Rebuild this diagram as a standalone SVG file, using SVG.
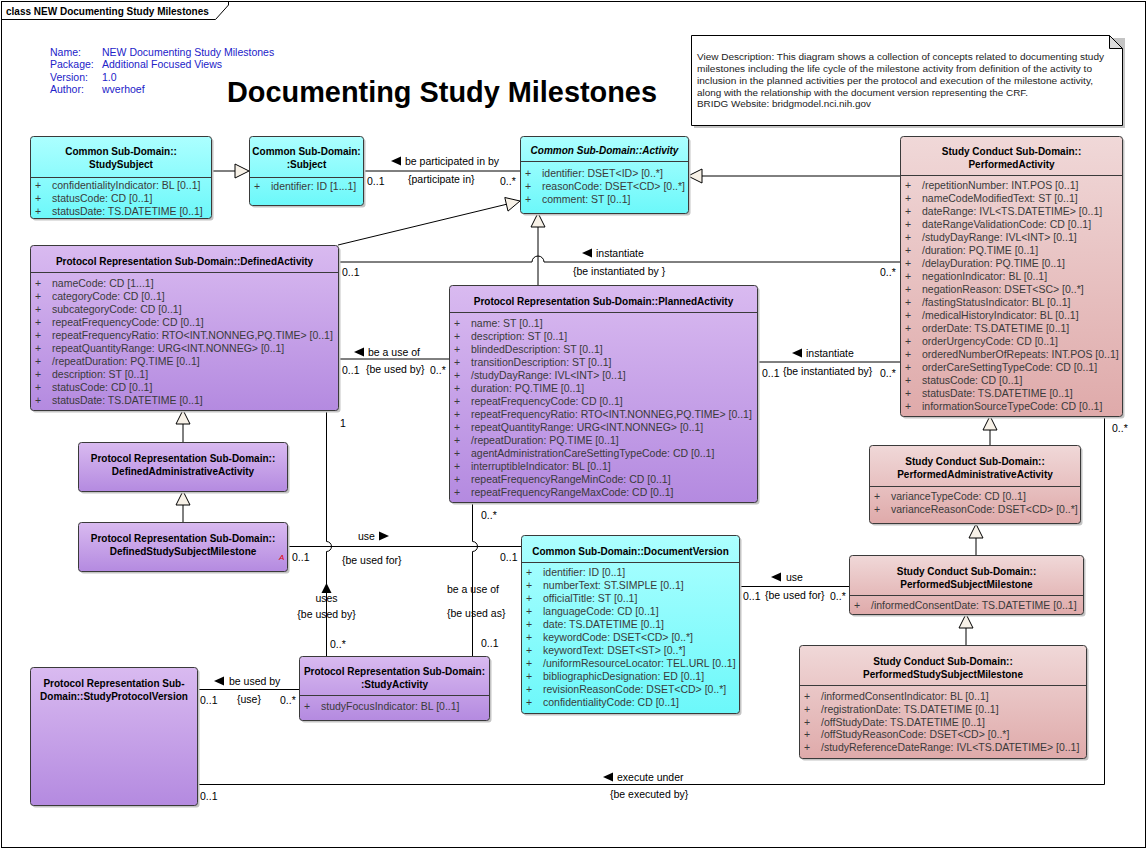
<svg xmlns="http://www.w3.org/2000/svg" width="1148" height="850" viewBox="0 0 1148 850">
<defs>
  <linearGradient id="gCyan" x1="0" y1="0" x2="0" y2="1">
    <stop offset="0" stop-color="#acffff"/>
    <stop offset="1" stop-color="#6cf8fa"/>
  </linearGradient>
  <linearGradient id="gPurple" x1="0" y1="0" x2="0" y2="1">
    <stop offset="0" stop-color="#d9baf0"/>
    <stop offset="1" stop-color="#b48ae0"/>
  </linearGradient>
  <linearGradient id="gPink" x1="0" y1="0" x2="0" y2="1">
    <stop offset="0" stop-color="#f0d8d8"/>
    <stop offset="1" stop-color="#dfaaaa"/>
  </linearGradient>
  <style>
    text { font-family: "Liberation Sans", Arial, sans-serif; }
    .shadow { fill: #c4c4c4; }
    .box { stroke: #3a3a3a; stroke-width: 1; }
    .cyan { fill: url(#gCyan); }
    .purple { fill: url(#gPurple); }
    .pink { fill: url(#gPink); }
    .div { stroke: #3a3a3a; stroke-width: 1; }
    .t { font-size: 10px; font-weight: bold; fill: #000; text-anchor: middle; }
    .ti { font-size: 10px; font-weight: bold; font-style: italic; fill: #000; text-anchor: middle; }
    .a { font-size: 10.5px; fill: #3a3a3a; }
    .lbl { font-size: 10.5px; fill: #000; }
    .lblc { font-size: 10.5px; fill: #000; text-anchor: middle; }
    .hdr { font-size: 10.5px; fill: #2222c8; }
    .note { font-size: 9.6px; fill: #222; }
    .ln { fill: none; stroke: #000; stroke-width: 1; }
    .gen { fill: #f7f1e7; stroke: #000; stroke-width: 1; }
    .dir { fill: #000; }
  </style>
</defs>

<!-- diagram frame -->
<rect x="0" y="0" width="1148" height="850" fill="#fff"/>
<rect x="1.5" y="1.5" width="1144" height="846" fill="none" stroke="#000"/>
<path d="M1.5,19.5 H215.5 L228.5,5 V1.5" fill="none" stroke="#000"/>
<text x="6" y="15" style="font-size:10px;font-weight:bold;">class NEW Documenting Study Milestones</text>

<!-- diagram properties -->
<g id="properties">
  <text class="hdr" x="50" y="55.5">Name:</text>
  <text class="hdr" x="102" y="55.5">NEW Documenting Study Milestones</text>
  <text class="hdr" x="50" y="68">Package:</text>
  <text class="hdr" x="102" y="68">Additional Focused Views</text>
  <text class="hdr" x="50" y="80.5">Version:</text>
  <text class="hdr" x="102" y="80.5">1.0</text>
  <text class="hdr" x="50" y="93">Author:</text>
  <text class="hdr" x="102" y="93">wverhoef</text>
</g>

<text x="227" y="102" style="font-size:29px;font-weight:bold;" textLength="430" lengthAdjust="spacingAndGlyphs">Documenting Study Milestones</text>

<!-- description note -->
<g id="note">
  <path d="M694,38 H1125 V128 H694 Z" fill="#c4c4c4"/>
  <path d="M691.5,35.5 H1109.5 L1122.5,48.5 V125.5 H691.5 Z" fill="#fff" stroke="#000"/>
  <path d="M1109.5,35.5 V48.5 H1122.5 Z" fill="#dcdcdc" stroke="#000"/>
  <text class="note" x="697" y="59.5" textLength="407" lengthAdjust="spacingAndGlyphs">View Description:  This diagram shows a collection of concepts related to documenting study</text>
  <text class="note" x="697" y="71.5" textLength="395" lengthAdjust="spacingAndGlyphs">milestones including the life cycle of the milestone activity from definition of the activity to</text>
  <text class="note" x="697" y="83.5" textLength="396" lengthAdjust="spacingAndGlyphs">inclusion in the planned activities per the protocol and execution of the milestone activity,</text>
  <text class="note" x="697" y="95.5" textLength="331" lengthAdjust="spacingAndGlyphs">along with the relationship with the document version representing the CRF.</text>
  <text class="note" x="697" y="107" textLength="174" lengthAdjust="spacingAndGlyphs">BRIDG Website:  bridgmodel.nci.nih.gov</text>
</g>

<!-- connectors -->
<g id="connectors">
  <!-- generalizations -->
  <line class="ln" x1="211" y1="171" x2="235" y2="171"/>
  <polygon class="gen" points="249,171 235,164 235,178"/>

  <line class="ln" x1="900" y1="176" x2="702" y2="176"/>
  <polygon class="gen" points="688,176 702,169 702,183"/>

  <line class="ln" x1="338" y1="245" x2="506.4" y2="204.3"/>
  <polygon class="gen" points="520,201 508,211.1 504.8,197.5"/>

  <line class="ln" x1="538" y1="285" x2="538" y2="227"/>
  <polygon class="gen" points="538,213 531,227 545,227"/>

  <line class="ln" x1="183" y1="442" x2="183" y2="424"/>
  <polygon class="gen" points="183,410 176,424 190,424"/>

  <line class="ln" x1="183" y1="522" x2="183" y2="505"/>
  <polygon class="gen" points="183,491 176,505 190,505"/>

  <line class="ln" x1="990" y1="445" x2="990" y2="430"/>
  <polygon class="gen" points="990,416 983,430 997,430"/>

  <line class="ln" x1="976" y1="555" x2="976" y2="538"/>
  <polygon class="gen" points="976,524 969,538 983,538"/>

  <line class="ln" x1="966" y1="645" x2="966" y2="628"/>
  <polygon class="gen" points="966,614 959,628 973,628"/>

  <!-- Subject / Activity -->
  <line class="ln" x1="363" y1="171" x2="520" y2="171"/>
  <polygon class="dir" points="391,161 401,156.5 401,165.5"/>
  <text class="lbl" x="405" y="165">be participated in by</text>
  <text class="lbl" x="408" y="183">{participate in}</text>
  <text class="lbl" x="367" y="185">0..1</text>
  <text class="lbl" x="500" y="185">0..*</text>

  <!-- DefinedActivity / PerformedActivity -->
  <path class="ln" d="M338,262 H532 A6,6 0 0 1 544,262 H900"/>
  <polygon class="dir" points="582,253 592,248.5 592,257.5"/>
  <text class="lbl" x="596" y="257">instantiate</text>
  <text class="lbl" x="573" y="275">{be instantiated by }</text>
  <text class="lbl" x="342" y="276">0..1</text>
  <text class="lbl" x="880" y="276">0..*</text>

  <!-- DefinedActivity / PlannedActivity -->
  <line class="ln" x1="338" y1="359" x2="449" y2="359"/>
  <polygon class="dir" points="354,352 364,347.5 364,356.5"/>
  <text class="lbl" x="368" y="356">be a use of</text>
  <text class="lbl" x="342" y="374">0..1</text>
  <text class="lbl" x="366" y="373">{be used by}</text>
  <text class="lbl" x="430" y="374">0..*</text>

  <!-- PlannedActivity / PerformedActivity -->
  <line class="ln" x1="757" y1="362" x2="900" y2="362"/>
  <polygon class="dir" points="792,353 802,348.5 802,357.5"/>
  <text class="lbl" x="806" y="357">instantiate</text>
  <text class="lbl" x="762" y="377">0..1</text>
  <text class="lbl" x="783" y="375">{be instantiated by}</text>
  <text class="lbl" x="880" y="377">0..*</text>

  <!-- PerformedActivity / StudyProtocolVersion -->
  <path class="ln" d="M1104.5,416 V784.5 H197"/>
  <polygon class="dir" points="603,777 613,772.5 613,781.5"/>
  <text class="lbl" x="617" y="781">execute under</text>
  <text class="lbl" x="610" y="798">{be executed by}</text>
  <text class="lbl" x="1112" y="432">0..*</text>
  <text class="lbl" x="200" y="800">0..1</text>

  <!-- DefinedStudySubjectMilestone / DocumentVersion -->
  <line class="ln" x1="287" y1="546.5" x2="521" y2="546.5"/>
  <text class="lbl" x="358" y="540">use</text>
  <polygon class="dir" points="389,536 379,531.5 379,540.5"/>
  <text class="lbl" x="342" y="564">{be used for}</text>
  <text class="lbl" x="292" y="561">0..1</text>
  <text class="lbl" x="500" y="561">0..1</text>

  <!-- DefinedActivity / StudyActivity -->
  <path class="ln" d="M326.5,410 V541.5 A5,5 0 0 1 326.5,551.5 V656"/>
  <text class="lbl" x="340" y="427">1</text>
  <polygon class="dir" points="326.5,583 321.5,593 331.5,593"/>
  <text class="lblc" x="326.5" y="602">uses</text>
  <text class="lblc" x="326.5" y="618">{be used by}</text>
  <text class="lbl" x="330" y="648">0..*</text>

  <!-- PlannedActivity / StudyActivity -->
  <path class="ln" d="M472.5,502 V541.5 A5,5 0 0 1 472.5,551.5 V656"/>
  <text class="lbl" x="481" y="519">0..*</text>
  <text class="lbl" x="447" y="593">be a use of</text>
  <text class="lbl" x="447" y="617">{be used as}</text>
  <text class="lbl" x="481" y="647">0..1</text>

  <!-- StudyProtocolVersion / StudyActivity -->
  <line class="ln" x1="197" y1="689.5" x2="299" y2="689.5"/>
  <polygon class="dir" points="214,681 224,676.5 224,685.5"/>
  <text class="lbl" x="229" y="685">be used by</text>
  <text class="lbl" x="200" y="704">0..1</text>
  <text class="lbl" x="237" y="703">{use}</text>
  <text class="lbl" x="280" y="704">0..*</text>

  <!-- DocumentVersion / PerformedSubjectMilestone -->
  <line class="ln" x1="739" y1="586.5" x2="849" y2="586.5"/>
  <polygon class="dir" points="771,577 781,572.5 781,581.5"/>
  <text class="lbl" x="786" y="581">use</text>
  <text class="lbl" x="743" y="600">0..1</text>
  <text class="lbl" x="765" y="599">{be used for}</text>
  <text class="lbl" x="830" y="600">0..*</text>
</g>

<!-- classes -->
<g id="StudySubject">
  <rect class="shadow" x="32.5" y="138.5" width="181" height="82" rx="3"/>
  <rect class="box cyan" x="30.5" y="136.5" width="181" height="82" rx="3"/>
  <line class="div" x1="30.5" y1="177.5" x2="211.5" y2="177.5"/>
  <text class="t" x="121" y="154.5">Common Sub-Domain::</text>
  <text class="t" x="121" y="167.5">StudySubject</text>
  <text class="a" x="35" y="189">+</text><text class="a" x="52" y="189">confidentialityIndicator: BL [0..1]</text>
  <text class="a" x="35" y="202">+</text><text class="a" x="52" y="202">statusCode: CD [0..1]</text>
  <text class="a" x="35" y="215">+</text><text class="a" x="52" y="215">statusDate: TS.DATETIME [0..1]</text>
</g>

<g id="Subject">
  <rect class="shadow" x="251.5" y="138.5" width="114" height="69" rx="3"/>
  <rect class="box cyan" x="249.5" y="136.5" width="114" height="69" rx="3"/>
  <line class="div" x1="249.5" y1="177.5" x2="363.5" y2="177.5"/>
  <text class="t" x="306.5" y="154.5">Common Sub-Domain:</text>
  <text class="t" x="306.5" y="167.5">:Subject</text>
  <text class="a" x="254" y="190">+</text><text class="a" x="271" y="190">identifier: ID [1...1]</text>
</g>

<g id="Activity">
  <rect class="shadow" x="522.5" y="138.5" width="168" height="77" rx="3"/>
  <rect class="box cyan" x="520.5" y="136.5" width="168" height="77" rx="3"/>
  <line class="div" x1="520.5" y1="161.5" x2="688.5" y2="161.5"/>
  <text class="ti" x="604.5" y="153.5">Common Sub-Domain::Activity</text>
  <text class="a" x="525" y="177">+</text><text class="a" x="542" y="177">identifier: DSET&lt;ID&gt; [0..*]</text>
  <text class="a" x="525" y="190">+</text><text class="a" x="542" y="190">reasonCode: DSET&lt;CD&gt; [0..*]</text>
  <text class="a" x="525" y="203">+</text><text class="a" x="542" y="203">comment: ST [0..1]</text>
</g>

<g id="PerformedActivity">
  <rect class="shadow" x="902.5" y="138.5" width="222" height="280" rx="3"/>
  <rect class="box pink" x="900.5" y="136.5" width="222" height="280" rx="3"/>
  <line class="div" x1="900.5" y1="175.5" x2="1122.5" y2="175.5"/>
  <text class="t" x="1011.5" y="155">Study Conduct Sub-Domain::</text>
  <text class="t" x="1011.5" y="168">PerformedActivity</text>
  <text class="a" x="905" y="189">+</text><text class="a" x="922" y="189">/repetitionNumber: INT.POS [0..1]</text>
  <text class="a" x="905" y="202">+</text><text class="a" x="922" y="202">nameCodeModifiedText: ST [0..1]</text>
  <text class="a" x="905" y="215">+</text><text class="a" x="922" y="215">dateRange: IVL&lt;TS.DATETIME&gt; [0..1]</text>
  <text class="a" x="905" y="228">+</text><text class="a" x="922" y="228">dateRangeValidationCode: CD [0..1]</text>
  <text class="a" x="905" y="241">+</text><text class="a" x="922" y="241">/studyDayRange: IVL&lt;INT&gt; [0..1]</text>
  <text class="a" x="905" y="254">+</text><text class="a" x="922" y="254">/duration: PQ.TIME [0..1]</text>
  <text class="a" x="905" y="267">+</text><text class="a" x="922" y="267">/delayDuration: PQ.TIME [0..1]</text>
  <text class="a" x="905" y="280">+</text><text class="a" x="922" y="280">negationIndicator: BL [0..1]</text>
  <text class="a" x="905" y="293">+</text><text class="a" x="922" y="293">negationReason: DSET&lt;SC&gt; [0..*]</text>
  <text class="a" x="905" y="306">+</text><text class="a" x="922" y="306">/fastingStatusIndicator: BL [0..1]</text>
  <text class="a" x="905" y="319">+</text><text class="a" x="922" y="319">/medicalHistoryIndicator: BL [0..1]</text>
  <text class="a" x="905" y="332">+</text><text class="a" x="922" y="332">orderDate: TS.DATETIME [0..1]</text>
  <text class="a" x="905" y="345">+</text><text class="a" x="922" y="345">orderUrgencyCode: CD [0..1]</text>
  <text class="a" x="905" y="358">+</text><text class="a" x="922" y="358">orderedNumberOfRepeats: INT.POS [0..1]</text>
  <text class="a" x="905" y="371">+</text><text class="a" x="922" y="371">orderCareSettingTypeCode: CD [0..1]</text>
  <text class="a" x="905" y="384">+</text><text class="a" x="922" y="384">statusCode: CD [0..1]</text>
  <text class="a" x="905" y="397">+</text><text class="a" x="922" y="397">statusDate: TS.DATETIME [0..1]</text>
  <text class="a" x="905" y="410">+</text><text class="a" x="922" y="410">informationSourceTypeCode: CD [0..1]</text>
</g>

<g id="DefinedActivity">
  <rect class="shadow" x="32.5" y="247.5" width="308" height="165" rx="3"/>
  <rect class="box purple" x="30.5" y="245.5" width="308" height="165" rx="3"/>
  <line class="div" x1="30.5" y1="272.5" x2="338.5" y2="272.5"/>
  <text class="t" x="184.5" y="264.5">Protocol Representation Sub-Domain::DefinedActivity</text>
  <text class="a" x="35" y="287">+</text><text class="a" x="52" y="287">nameCode: CD [1...1]</text>
  <text class="a" x="35" y="300">+</text><text class="a" x="52" y="300">categoryCode: CD [0..1]</text>
  <text class="a" x="35" y="313">+</text><text class="a" x="52" y="313">subcategoryCode: CD [0..1]</text>
  <text class="a" x="35" y="326">+</text><text class="a" x="52" y="326">repeatFrequencyCode: CD [0..1]</text>
  <text class="a" x="35" y="339">+</text><text class="a" x="52" y="339">repeatFrequencyRatio: RTO&lt;INT.NONNEG,PQ.TIME&gt; [0..1]</text>
  <text class="a" x="35" y="352">+</text><text class="a" x="52" y="352">repeatQuantityRange: URG&lt;INT.NONNEG&gt; [0..1]</text>
  <text class="a" x="35" y="365">+</text><text class="a" x="52" y="365">/repeatDuration: PQ.TIME [0..1]</text>
  <text class="a" x="35" y="378">+</text><text class="a" x="52" y="378">description: ST [0..1]</text>
  <text class="a" x="35" y="391">+</text><text class="a" x="52" y="391">statusCode: CD [0..1]</text>
  <text class="a" x="35" y="404">+</text><text class="a" x="52" y="404">statusDate: TS.DATETIME [0..1]</text>
</g>

<g id="PlannedActivity">
  <rect class="shadow" x="451.5" y="287.5" width="308" height="217" rx="3"/>
  <rect class="box purple" x="449.5" y="285.5" width="308" height="217" rx="3"/>
  <line class="div" x1="449.5" y1="312.5" x2="757.5" y2="312.5"/>
  <text class="t" x="603.5" y="304.5">Protocol Representation Sub-Domain::PlannedActivity</text>
  <text class="a" x="454" y="327">+</text><text class="a" x="471" y="327">name: ST [0..1]</text>
  <text class="a" x="454" y="340">+</text><text class="a" x="471" y="340">description: ST [0..1]</text>
  <text class="a" x="454" y="353">+</text><text class="a" x="471" y="353">blindedDescription: ST [0..1]</text>
  <text class="a" x="454" y="366">+</text><text class="a" x="471" y="366">transitionDescription: ST [0..1]</text>
  <text class="a" x="454" y="379">+</text><text class="a" x="471" y="379">/studyDayRange: IVL&lt;INT&gt; [0..1]</text>
  <text class="a" x="454" y="392">+</text><text class="a" x="471" y="392">duration: PQ.TIME [0..1]</text>
  <text class="a" x="454" y="405">+</text><text class="a" x="471" y="405">repeatFrequencyCode: CD [0..1]</text>
  <text class="a" x="454" y="418">+</text><text class="a" x="471" y="418">repeatFrequencyRatio: RTO&lt;INT.NONNEG,PQ.TIME&gt; [0..1]</text>
  <text class="a" x="454" y="431">+</text><text class="a" x="471" y="431">repeatQuantityRange: URG&lt;INT.NONNEG&gt; [0..1]</text>
  <text class="a" x="454" y="444">+</text><text class="a" x="471" y="444">/repeatDuration: PQ.TIME [0..1]</text>
  <text class="a" x="454" y="457">+</text><text class="a" x="471" y="457">agentAdministrationCareSettingTypeCode: CD [0..1]</text>
  <text class="a" x="454" y="470">+</text><text class="a" x="471" y="470">interruptibleIndicator: BL [0..1]</text>
  <text class="a" x="454" y="483">+</text><text class="a" x="471" y="483">repeatFrequencyRangeMinCode: CD [0..1]</text>
  <text class="a" x="454" y="496">+</text><text class="a" x="471" y="496">repeatFrequencyRangeMaxCode: CD [0..1]</text>
</g>

<g id="DefinedAdministrativeActivity">
  <rect class="shadow" x="80.5" y="444.5" width="209" height="49" rx="3"/>
  <rect class="box purple" x="78.5" y="442.5" width="209" height="49" rx="3"/>
  <text class="t" x="183" y="461.5">Protocol Representation Sub-Domain::</text>
  <text class="t" x="183" y="474.5">DefinedAdministrativeActivity</text>
</g>

<g id="DefinedStudySubjectMilestone">
  <rect class="shadow" x="80.5" y="524.5" width="209" height="49" rx="3"/>
  <rect class="box purple" x="78.5" y="522.5" width="209" height="49" rx="3"/>
  <text class="t" x="183" y="541.5">Protocol Representation Sub-Domain::</text>
  <text class="t" x="183" y="554.5">DefinedStudySubjectMilestone</text>
  <text x="279" y="560" style="font-size:8px;font-style:italic;fill:#e00000;">A</text>
</g>

<g id="PerformedAdministrativeActivity">
  <rect class="shadow" x="871.5" y="447.5" width="211" height="78" rx="3"/>
  <rect class="box pink" x="869.5" y="445.5" width="211" height="78" rx="3"/>
  <line class="div" x1="869.5" y1="486.5" x2="1080.5" y2="486.5"/>
  <text class="t" x="975" y="464.5">Study Conduct Sub-Domain::</text>
  <text class="t" x="975" y="477.5">PerformedAdministrativeActivity</text>
  <text class="a" x="874" y="500">+</text><text class="a" x="891" y="500">varianceTypeCode: CD [0..1]</text>
  <text class="a" x="874" y="513">+</text><text class="a" x="891" y="513">varianceReasonCode: DSET&lt;CD&gt; [0..*]</text>
</g>

<g id="PerformedSubjectMilestone">
  <rect class="shadow" x="851.5" y="557.5" width="234" height="59" rx="3"/>
  <rect class="box pink" x="849.5" y="555.5" width="234" height="59" rx="3"/>
  <line class="div" x1="849.5" y1="595.5" x2="1083.5" y2="595.5"/>
  <text class="t" x="966.5" y="574.5">Study Conduct Sub-Domain::</text>
  <text class="t" x="966.5" y="587.5">PerformedSubjectMilestone</text>
  <text class="a" x="854" y="609">+</text><text class="a" x="871" y="609">/informedConsentDate: TS.DATETIME [0..1]</text>
</g>

<g id="PerformedStudySubjectMilestone">
  <rect class="shadow" x="801.5" y="647.5" width="287" height="113" rx="3"/>
  <rect class="box pink" x="799.5" y="645.5" width="287" height="113" rx="3"/>
  <line class="div" x1="799.5" y1="685.5" x2="1086.5" y2="685.5"/>
  <text class="t" x="943" y="664.5">Study Conduct Sub-Domain::</text>
  <text class="t" x="943" y="677.5">PerformedStudySubjectMilestone</text>
  <text class="a" x="804" y="700">+</text><text class="a" x="821" y="700">/informedConsentIndicator: BL [0..1]</text>
  <text class="a" x="804" y="713">+</text><text class="a" x="821" y="713">/registrationDate: TS.DATETIME [0..1]</text>
  <text class="a" x="804" y="725.5">+</text><text class="a" x="821" y="725.5">/offStudyDate: TS.DATETIME [0..1]</text>
  <text class="a" x="804" y="738">+</text><text class="a" x="821" y="738">/offStudyReasonCode: DSET&lt;CD&gt; [0..*]</text>
  <text class="a" x="804" y="751">+</text><text class="a" x="821" y="751">/studyReferenceDateRange: IVL&lt;TS.DATETIME&gt; [0..1]</text>
</g>

<g id="DocumentVersion">
  <rect class="shadow" x="523.5" y="537.5" width="218" height="178" rx="3"/>
  <rect class="box cyan" x="521.5" y="535.5" width="218" height="178" rx="3"/>
  <line class="div" x1="521.5" y1="562.5" x2="739.5" y2="562.5"/>
  <text class="t" x="630.5" y="554.5">Common Sub-Domain::DocumentVersion</text>
  <text class="a" x="526" y="576">+</text><text class="a" x="543" y="576">identifier: ID [0..1]</text>
  <text class="a" x="526" y="589">+</text><text class="a" x="543" y="589">numberText: ST.SIMPLE [0..1]</text>
  <text class="a" x="526" y="602">+</text><text class="a" x="543" y="602">officialTitle: ST [0..1]</text>
  <text class="a" x="526" y="615">+</text><text class="a" x="543" y="615">languageCode: CD [0..1]</text>
  <text class="a" x="526" y="628">+</text><text class="a" x="543" y="628">date: TS.DATETIME [0..1]</text>
  <text class="a" x="526" y="641">+</text><text class="a" x="543" y="641">keywordCode: DSET&lt;CD&gt; [0..*]</text>
  <text class="a" x="526" y="654">+</text><text class="a" x="543" y="654">keywordText: DSET&lt;ST&gt; [0..*]</text>
  <text class="a" x="526" y="667">+</text><text class="a" x="543" y="667">/uniformResourceLocator: TEL.URL [0..1]</text>
  <text class="a" x="526" y="680">+</text><text class="a" x="543" y="680">bibliographicDesignation: ED [0..1]</text>
  <text class="a" x="526" y="693">+</text><text class="a" x="543" y="693">revisionReasonCode: DSET&lt;CD&gt; [0..*]</text>
  <text class="a" x="526" y="706">+</text><text class="a" x="543" y="706">confidentialityCode: CD [0..1]</text>
</g>

<g id="StudyActivity">
  <rect class="shadow" x="301.5" y="658.5" width="190" height="64" rx="3"/>
  <rect class="box purple" x="299.5" y="656.5" width="190" height="64" rx="3"/>
  <line class="div" x1="299.5" y1="695.5" x2="489.5" y2="695.5"/>
  <text class="t" x="394.5" y="674.5">Protocol Representation Sub-Domain:</text>
  <text class="t" x="394.5" y="687.5">:StudyActivity</text>
  <text class="a" x="304" y="710">+</text><text class="a" x="321" y="710">studyFocusIndicator: BL [0..1]</text>
</g>

<g id="StudyProtocolVersion">
  <rect class="shadow" x="32.5" y="669.5" width="167" height="138" rx="3"/>
  <rect class="box purple" x="30.5" y="667.5" width="167" height="138" rx="3"/>
  <text class="t" x="114" y="686.5">Protocol Representation Sub-</text>
  <text class="t" x="114" y="699.5">Domain::StudyProtocolVersion</text>
</g>
</svg>
